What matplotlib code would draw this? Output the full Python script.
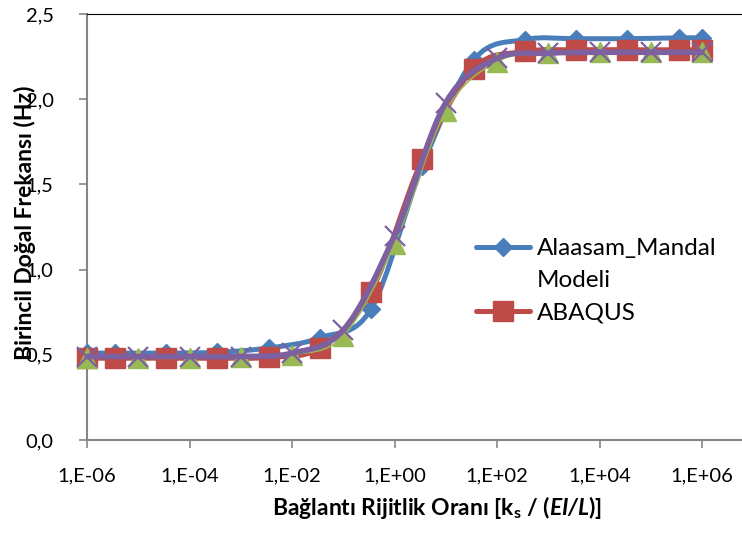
import numpy as np
import matplotlib.pyplot as plt
from matplotlib.path import Path
from matplotlib.patches import PathPatch
from matplotlib.lines import Line2D
from matplotlib.ticker import FixedLocator, FuncFormatter

plt.rcParams['font.family'] = ['Lato', 'DejaVu Sans']
plt.rcParams['mathtext.fontset'] = 'custom'
plt.rcParams['mathtext.rm'] = 'Lato'
plt.rcParams['mathtext.bf'] = 'Lato:bold'
plt.rcParams['mathtext.bfit'] = 'Lato:bold:italic'

# stiffness ratios used by the model / ABAQUS runs
x_model = [1e-6, 3.5e-6, 3.5e-5, 3.5e-4, 3.5e-3, 3.5e-2, 0.35, 3.5, 35, 350,
           3500, 35000, 350000, 1e6]
f_model = [0.51, 0.51, 0.51, 0.515, 0.54, 0.60, 0.77, 1.61, 2.23, 2.35,
           2.355, 2.355, 2.36, 2.36]
f_abaqus = [0.48, 0.48, 0.48, 0.48, 0.485, 0.54, 0.87, 1.65, 2.18, 2.28,
            2.29, 2.29, 2.29, 2.29]

# decade points for the other two series
x_dec = [1e-6, 1e-5, 1e-4, 1e-3, 1e-2, 1e-1, 1, 10, 100, 1e3, 1e4, 1e5, 1e6]
f_green = [0.48, 0.48, 0.48, 0.485, 0.50, 0.61, 1.15, 1.93, 2.22, 2.27,
           2.275, 2.275, 2.275]
f_purple = [0.49, 0.49, 0.49, 0.49, 0.51, 0.645, 1.20, 1.98, 2.24, 2.27,
            2.275, 2.275, 2.275]

x_ticks = [1e-6, 1e-4, 1e-2, 1, 1e2, 1e4, 1e6]
y_ticks = [0, 0.5, 1.0, 1.5, 2.0, 2.5]

blue = '#4A7EBB'
red = '#BE4B48'
green = '#98B954'
purple = '#7D60A0'


def smooth_path(x, y):
    # Excel-like smoothed line: cubic bezier through the points (in log-x space)
    lx = np.log10(x)
    y = np.asarray(y, float)
    n = len(lx)
    verts = [(lx[0], y[0])]
    codes = [Path.MOVETO]
    for i in range(n - 1):
        i0 = max(i - 1, 0)
        i3 = min(i + 2, n - 1)
        c1 = (lx[i] + (lx[i + 1] - lx[i0]) / 6, y[i] + (y[i + 1] - y[i0]) / 6)
        c2 = (lx[i + 1] - (lx[i3] - lx[i]) / 6, y[i + 1] - (y[i3] - y[i]) / 6)
        verts += [c1, c2, (lx[i + 1], y[i + 1])]
        codes += [Path.CURVE4] * 3
    v = np.array(verts)
    v[:, 0] = 10 ** v[:, 0]
    return Path(v, codes)


fig = plt.figure(figsize=(7.42, 5.37), dpi=100)
ax = fig.add_axes([87 / 742, 1 - 440 / 537, 1 - 87 / 742, (440 - 14) / 537])
ax.set_xscale('log')

series = [
    (x_model, f_model, blue, 'D', 9.5, 3.6),
    (x_model, f_abaqus, red, 's', 14, 3.6),
    (x_dec, f_green, green, '^', 14, 1.2),
    (x_dec, f_purple, purple, 'x', 14, 4.0),
]
z = 3
for xs, ys, c, m, ms, lw in series:
    ax.add_patch(PathPatch(smooth_path(xs, ys), facecolor='none', edgecolor=c,
                           lw=lw, capstyle='round', joinstyle='round', zorder=z,
                           clip_on=False))
    ax.plot(xs, ys, ls='none', marker=m, ms=ms, color=c, mec=c,
            mew=1.6 if m == 'x' else 1, zorder=z + 0.5, clip_on=False)
    z += 1

ax.set_xlim(1e-6, 10 ** 6.78)
ax.set_ylim(0, 2.5)

ax.xaxis.set_major_locator(FixedLocator(x_ticks))
ax.xaxis.set_minor_locator(FixedLocator([]))
ax.xaxis.set_major_formatter(FuncFormatter(
    lambda v, p: '1,E%+03d' % int(round(np.log10(v)))))
ax.yaxis.set_major_locator(FixedLocator(y_ticks))
ax.yaxis.set_major_formatter(FuncFormatter(
    lambda v, p: ('%.1f' % v).replace('.', ',')))

for s in ['left', 'bottom']:
    ax.spines[s].set_color('#868686')
    ax.spines[s].set_linewidth(1.5)
ax.spines['right'].set_visible(False)
ax.spines['top'].set_color('black')
ax.spines['top'].set_linewidth(0.8)
ax.tick_params(axis='both', direction='out', length=6, width=1.2,
               color='#868686', labelsize=14.5)
ax.tick_params(axis='x', pad=14)
ax.tick_params(axis='y', pad=18)

ax.set_ylabel('Birincil Doğal Frekansı (Hz)', fontsize=16.5, fontweight='bold')
ax.yaxis.set_label_coords(-0.078, 0.51)
ax.set_xlabel(r'Bağlantı Rijitlik Oranı [k$_\mathbf{s}$ / ($\mathbfit{EI/L}$)]',
              fontsize=16.5, fontweight='bold')
ax.xaxis.set_label_coords(0.534, -0.127)

handles = [
    Line2D([], [], color=blue, lw=3.6, marker='D', ms=9.5, solid_capstyle='round'),
    Line2D([], [], ls='none'),
    Line2D([], [], color=red, lw=3.6, marker='s', ms=14, solid_capstyle='round'),
]
labels = ['Alaasam_Mandal', 'Modeli', 'ABAQUS']
fig.legend(handles, labels, loc='upper left', bbox_to_anchor=(464 / 742, 1 - 226 / 537),
           frameon=False, fontsize=17.5, handlelength=2.2, handletextpad=0.3,
           labelspacing=0.45, borderpad=0)

fig.savefig('out.png', dpi=100)
